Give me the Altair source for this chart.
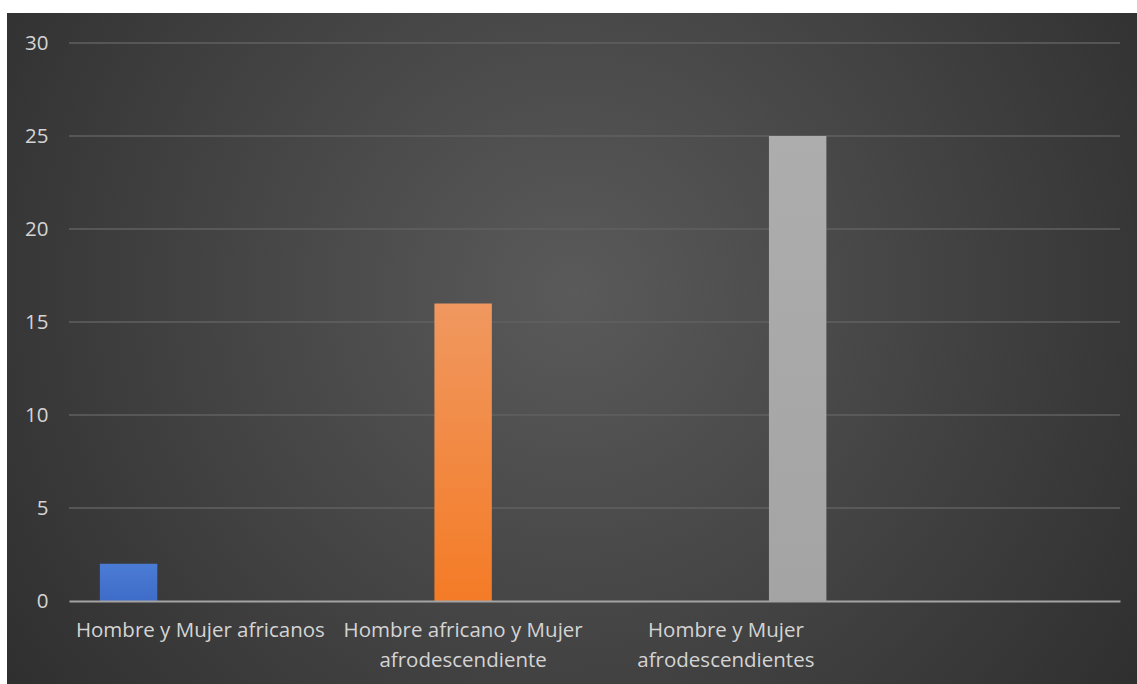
import altair as alt
import pandas as pd

# Chart values
categories = [
    "Hombre y Mujer africanos",
    "Hombre africano y Mujer afrodescendiente",
    "Hombre y Mujer afrodescendientes",
    "",
]
series = ["Serie1", "Serie2", "Serie3"]
values = [2, 16, 25]
y_ticks = [0, 5, 10, 15, 20, 25, 30]

# two-line versions of the longer category labels
wrapped = {
    "Hombre africano y Mujer afrodescendiente": ["Hombre africano y Mujer", "afrodescendiente"],
    "Hombre y Mujer afrodescendientes": ["Hombre y Mujer", "afrodescendientes"],
}

# bar fills: (top, bottom) of a soft vertical gradient per series
fills = {
    "Serie1": ("#4b7cd5", "#3e6cc8"),
    "Serie2": ("#f09860", "#f47b26"),
    "Serie3": ("#adadad", "#a4a4a4"),
}

W, H = 1051, 558
PAD = {"left": 69, "top": 43, "right": 17, "bottom": 83}
FONT = "Open Sans"
TEXT = "#d4d4d4"
FS = 20.5

bars_df = pd.DataFrame({
    "categoria": categories[:3],
    "serie": series,
    "valor": values,
})
ticks_df = pd.DataFrame({"tick": [t for t in y_ticks if t > 0]})

label_expr = ""
for k, lines in wrapped.items():
    arr = "[" + ",".join("'" + s + "'" for s in lines) + "]"
    label_expr += f"datum.label == '{k}' ? {arr} : "
label_expr += "datum.label"

x_enc = alt.X(
    "categoria:N",
    scale=alt.Scale(domain=categories, paddingInner=0, paddingOuter=0),
    sort=categories,
    axis=alt.Axis(
        title=None, labelAngle=0, ticks=False, grid=False,
        domainColor="#a3a3a3", domainWidth=2,
        labelColor=TEXT, labelFont=FONT, labelFontSize=FS,
        labelPadding=19, labelLineHeight=30, labelBaseline="top",
        labelExpr=label_expr, labelLimit=400, zindex=1,
    ),
)
xo_enc = alt.XOffset(
    "serie:N",
    scale=alt.Scale(domain=series, paddingInner=0.2, paddingOuter=0.43),
)
y_enc = alt.Y(
    "valor:Q",
    scale=alt.Scale(domain=[0, 30], nice=False),
    axis=alt.Axis(
        title=None, values=y_ticks, grid=False, domain=False, ticks=False,
        labelColor=TEXT, labelFont=FONT, labelFontSize=FS, labelPadding=21,
        zindex=1,
    ),
)

# dark radial backdrop behind the whole chart
backdrop = alt.Chart(pd.DataFrame({"k": [0]})).mark_rect(
    color=alt.RadialGradient(
        gradient="radial",
        x1=0.5, y1=0.45, r1=0,
        x2=0.5, y2=0.45, r2=0.72,
        stops=[
            alt.GradientStop(offset=0, color="#5a5a5a"),
            alt.GradientStop(offset=1, color="#272727"),
        ],
    )
).encode(
    x=alt.value(-62), x2=alt.value(1068),
    y=alt.value(-30), y2=alt.value(641),
)

grid = alt.Chart(ticks_df).mark_rule(color="#606060", strokeWidth=1.3).encode(
    y=alt.Y("tick:Q", scale=alt.Scale(domain=[0, 30], nice=False)),
    x=alt.value(0), x2=alt.value(W),
)

bar_layers = []
for s in series:
    top, bottom = fills[s]
    bar_layers.append(
        alt.Chart(bars_df).transform_filter(alt.datum.serie == s).mark_bar(
            color=alt.LinearGradient(
                gradient="linear", x1=0, y1=0, x2=0, y2=1,
                stops=[
                    alt.GradientStop(offset=0, color=top),
                    alt.GradientStop(offset=1, color=bottom),
                ],
            )
        ).encode(x=x_enc, xOffset=xo_enc, y=y_enc)
    )

chart = alt.layer(backdrop, grid, *bar_layers).properties(
    width=W, height=H,
    padding=PAD,
    autosize=alt.AutoSizeParams(type="none"),
    background="white",
).configure_view(stroke=None)

chart.save("out.html", embed_options={"renderer": "svg", "actions": False})
